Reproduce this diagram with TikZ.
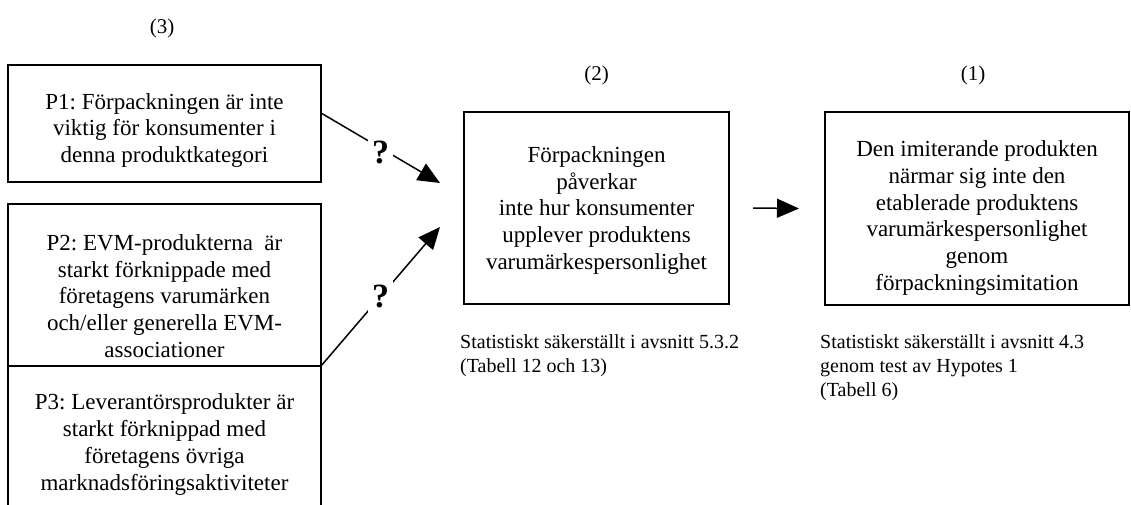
\documentclass[tikz,border=0pt]{standalone}
\usepackage{fontspec}
\setmainfont{Liberation Serif}
\usetikzlibrary{arrows.meta}
\frenchspacing
\tikzset{
  box/.style={draw, line width=1.8pt, inner sep=0pt, outer sep=0pt},
  openbox/.style={inner sep=0pt, outer sep=0pt},
  boxtext/.style={font=\fontsize{23}{26.8}\selectfont, align=center, inner sep=0pt},
  captext/.style={font=\fontsize{20}{24}\selectfont, align=left, inner sep=0pt, anchor=north west},
  numlabel/.style={font=\fontsize{21}{24}\selectfont, inner sep=0pt},
  arr/.style={line width=1.5pt, -{Triangle[length=22pt,width=19pt]}},
  qmark/.style={font=\bfseries\fontsize{34}{34}\selectfont, fill=white, inner xsep=4pt, inner ysep=4pt}
}
\begin{document}
\begin{tikzpicture}[x=1pt,y=-1pt]
\useasboundingbox (0,0) rectangle (1131,505);
% number labels
\node[numlabel] (n3) at (162,28) {(3)};
\node[numlabel] (n2) at (596.5,75) {(2)};
\node[numlabel] (n1) at (973,75) {(1)};
% left boxes
\node[box, minimum width=313pt, minimum height=117pt] (p1) at (164.5,123.5) {};
\node[boxtext] (p1t) at (164.5,130.5) {P1: Förpackningen är inte\\viktig för konsumenter i\\denna produktkategori};
\node[box, minimum width=313pt, minimum height=162pt] (p2) at (164.5,285) {};
\node[boxtext] (p2t) at (164.5,296) {P2: EVM-produkterna\ \ är\\starkt förknippade med\\företagens varumärken\\och/eller generella EVM-\\associationer};
\node[openbox, minimum width=313pt, minimum height=139pt] (p3) at (164.5,435.5) {};
\draw[line width=1.8pt] (p3.south west) -- (p3.north west) -- (p3.north east) -- (p3.south east);
\node[boxtext] (p3t) at (164.5,444.5) {P3: Leverantörsprodukter är\\starkt förknippad med\\företagens övriga\\marknadsföringsaktiviteter};
% middle box
\node[box, minimum width=265pt, minimum height=192pt] (m) at (596.5,208) {};
\node[boxtext] (mt) at (596.5,210.5) {Förpackningen\\påverkar\\inte hur konsumenter\\upplever produktens\\varumärkespersonlighet};
% right box
\node[box, minimum width=304pt, minimum height=193pt] (r) at (977,208.5) {};
\node[boxtext] (rt) at (977,218) {Den imiterande produkten\\närmar sig inte den\\etablerade produktens\\varumärkespersonlighet\\genom\\förpackningsimitation};
% captions
\node[captext] (c2) at (460,334) {Statistiskt säkerställt i avsnitt 5.3.2\\(Tabell 12 och 13)};
\node[captext] (c1) at (820,334) {Statistiskt säkerställt i avsnitt 4.3\\genom test av Hypotes 1\\(Tabell 6)};
% arrows
\coordinate (t1) at (440,183);
\coordinate (t2) at (440,227);
\draw[arr] ([yshift=10.5pt]p1.east) -- node[qmark, pos=0.5, yshift=-4pt] (q1) {?} (t1);
\draw[arr] (p2.south east) -- node[qmark, pos=0.5] (q2) {?} (t2);
\draw[arr] ([xshift=24pt]m.east) -- ([xshift=-26pt]r.west);
\end{tikzpicture}
\end{document}
